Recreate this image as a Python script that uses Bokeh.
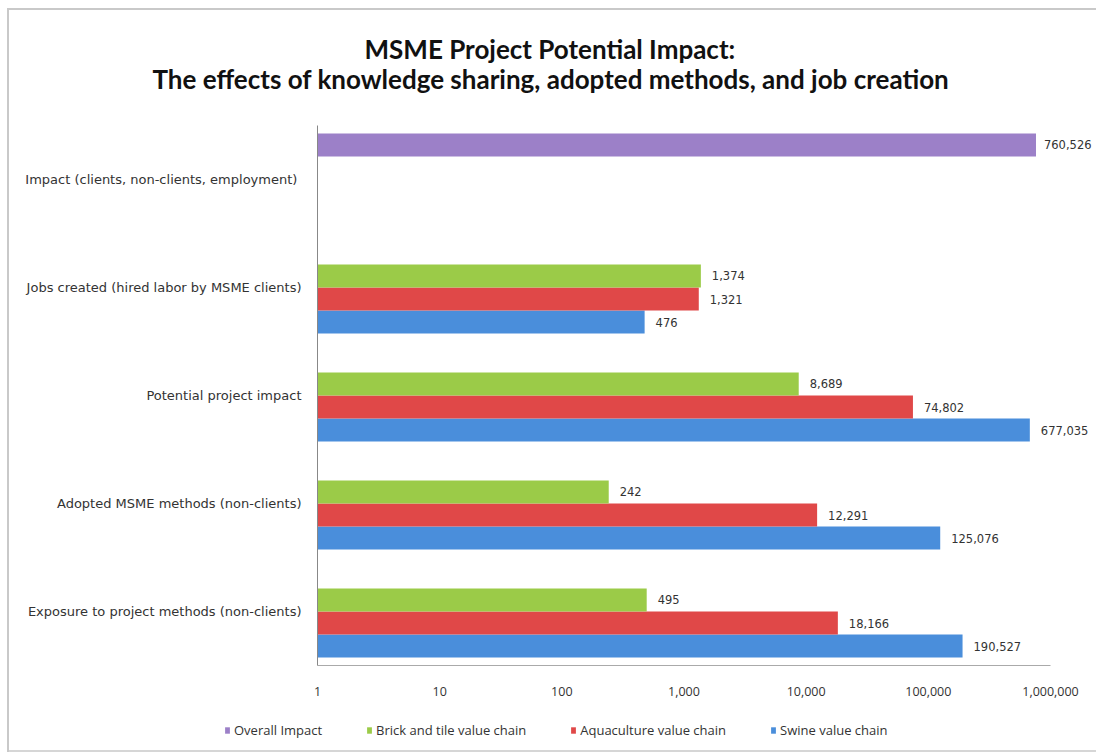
from bokeh.plotting import figure
from bokeh.layouts import column, row
from bokeh.models import (FactorRange, Range1d, ColumnDataSource, LabelSet, Legend,
                          LegendItem, FixedTicker, NumeralTickFormatter, Title)
from bokeh.core.properties import value
from bokeh.transform import dodge
from bokeh.embed import file_html
from bokeh.resources import INLINE

categories = ["Exposure to project methods (non-clients)",
              "Adopted MSME methods (non-clients)",
              "Potential project impact",
              "Jobs created (hired labor by MSME clients)",
              "Impact (clients,  non-clients, employment)"]
group_cats = categories[:4]
swine = [190527, 125076, 677035, 476]
aquaculture = [18166, 12291, 74802, 1321]
brick = [495, 242, 8689, 1374]
overall_cat = [categories[4]]
overall = [760526]
x_ticks = [1, 10, 100, 1000, 10000, 100000, 1000000]
title_lines = ["MSME Project Potential Impact:",
               "The effects of knowledge sharing, adopted methods, and job creation"]
legend_order = ["Overall Impact", "Brick and tile value chain",
                "Aquaculture value chain", "Swine value chain"]

FONT = "Open Sans"
LFONT = "DejaVu Sans"
TXT = "#333333"
colors = {"Swine value chain": "#4A8EDB", "Aquaculture value chain": "#E04848",
          "Brick and tile value chain": "#9BCB48", "Overall Impact": "#9C80C8"}

p = figure(width=1096, height=704, y_range=FactorRange(factors=categories),
           x_axis_type="log", x_range=Range1d(1, 10 ** (779 / 122.17)),
           output_backend="svg", toolbar_location=None,
           min_border_left=317, min_border_right=0, min_border_top=125,
           min_border_bottom=39, border_fill_color=None, background_fill_color=None)

p.title.text = ""
p.title.visible = False
p.add_layout(Title(text=title_lines[1], align="left", offset=-165, text_font="Lato",
                   text_font_size="26px", text_font_style="bold",
                   text_color="#111111", standoff=62), "above")
p.add_layout(Title(text=title_lines[0], align="left", offset=47, text_font="Lato",
                   text_font_size="26px", text_font_style="bold",
                   text_color="#111111", standoff=-70), "above")

series = [
    ("Swine value chain", swine, -0.32),
    ("Aquaculture value chain", aquaculture, -0.107),
    ("Brick and tile value chain", brick, 0.107),
]
H = 0.213
for name, vals, off in series:
    src = ColumnDataSource(dict(cat=group_cats, val=vals,
                                lbl=[f"{v:,}" for v in vals]))
    p.hbar(y=dodge("cat", off, range=p.y_range), left=1, right="val",
           height=H, source=src, fill_color=colors[name], line_color=None)
    p.add_layout(LabelSet(x="val", y=dodge("cat", off, range=p.y_range), text="lbl",
                          source=src, x_offset=11, text_baseline="middle",
                          text_font=value(LFONT), text_font_size="11.5px",
                          text_color=TXT))

osrc = ColumnDataSource(dict(cat=overall_cat, val=overall,
                             lbl=[f"{v:,}" for v in overall]))
p.hbar(y=dodge("cat", 0.32, range=p.y_range), left=1, right="val", height=H,
       source=osrc, fill_color=colors["Overall Impact"], line_color=None)
p.add_layout(LabelSet(x="val", y=dodge("cat", 0.32, range=p.y_range), text="lbl",
                      source=osrc, x_offset=8, text_baseline="middle",
                      text_font=value(LFONT), text_font_size="11.5px", text_color=TXT))

p.xaxis.ticker = FixedTicker(ticks=x_ticks)
p.xaxis.bounds = (1, 1000000)
p.xaxis.formatter = NumeralTickFormatter(format="0,0")
p.xaxis.major_label_text_font = FONT
p.xaxis.major_label_text_font_size = "12.5px"
p.xaxis.major_label_text_color = TXT
p.xaxis.major_label_standoff = 15
p.xaxis.major_tick_line_color = None
p.xaxis.minor_tick_line_color = None
p.xaxis.axis_line_color = "#aaaaaa"

p.yaxis.major_label_text_font = LFONT
p.yaxis.major_label_text_font_size = "13px"
p.yaxis.major_label_text_color = TXT
p.yaxis.major_label_standoff = 10
p.yaxis.major_tick_line_color = None
p.yaxis.axis_line_color = "#888888"

p.xgrid.visible = False
p.ygrid.visible = False
p.outline_line_color = None

# legend strip below the chart (its own small figure)
lf = figure(width=1096, height=50, x_range=Range1d(0, 1), y_range=Range1d(0, 1),
            output_backend="svg", toolbar_location=None,
            min_border=0, x_axis_location=None, y_axis_location=None,
            border_fill_color=None, background_fill_color=None)
lf.xgrid.visible = False
lf.ygrid.visible = False
lf.outline_line_color = None
nan = float("nan")
items = []
for n in legend_order:
    r = lf.hbar(y=[nan], left=[nan], right=[nan], height=0.1,
                fill_color=colors[n], line_color=None)
    items.append(LegendItem(label=n, renderers=[r]))
legend = Legend(items=items, orientation="horizontal", location=(224, 15),
                label_text_font=FONT, label_text_font_size="13px",
                label_text_color=TXT, glyph_width=6, glyph_height=8,
                spacing=44, border_line_color=None, background_fill_alpha=0,
                padding=4, label_standoff=4)
lf.add_layout(legend, "center")

layout = column(p, row(lf), spacing=0)
layout.styles = {
    "background": ("linear-gradient(#c9c9c9,#c9c9c9) 7px 8px / 2px 744px no-repeat, "
                   "linear-gradient(#c9c9c9,#c9c9c9) 7px 8px / 1089px 2px no-repeat, "
                   "linear-gradient(#d6d6d6,#d6d6d6) 7px 750px / 1089px 2px no-repeat, "
                   "#ffffff")
}
open("out.html", "w").write(file_html(layout, INLINE))
